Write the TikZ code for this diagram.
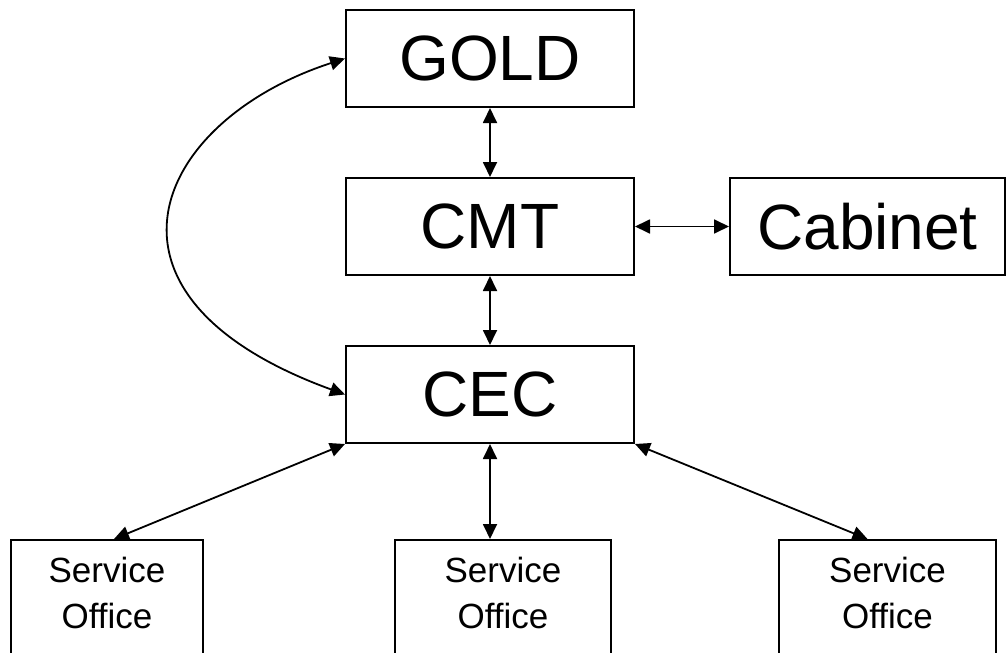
\documentclass[tikz,border=0pt]{standalone}
\usepackage{fontspec}
\setmainfont{Liberation Sans}
\usetikzlibrary{arrows.meta}
\begin{document}
\begin{tikzpicture}[x=1pt,y=-1pt,
  box/.style={draw,line width=2pt,inner sep=0pt,font=\fontsize{64}{70}\selectfont},
  sobox/.style={draw,line width=2pt,inner sep=0pt,anchor=north west},
  sotext/.style={inner sep=0pt,anchor=north,align=center,font=\fontsize{35}{46}\selectfont},
  conn/.style={line width=1.8pt,{Triangle[length=15pt,width=14pt]}-{Triangle[length=15pt,width=14pt]}}]
\useasboundingbox (0,0) rectangle (1007,653);
\clip (0,0) rectangle (1007,653);
\node[box,minimum width=288pt,minimum height=97pt] (gold) at (490,58.5) {GOLD};
\node[box,minimum width=288pt,minimum height=97pt] (cmt) at (490,226.5) {CMT};
\node[box,minimum width=275pt,minimum height=97pt] (cab) at (867.5,226.5) {Cabinet};
\node[box,minimum width=288pt,minimum height=97pt] (cec) at (490,394.5) {CEC};
\node[sobox,minimum width=192pt,minimum height=140pt] (so1) at (10,539) {};
\node[sobox,minimum width=216pt,minimum height=140pt] (so2) at (394,539) {};
\node[sobox,minimum width=217pt,minimum height=140pt] (so3) at (778,539) {};
\node[sotext] (t1) at ([yshift=-18pt]so1.north) {Service\\Office};
\node[sotext] (t2) at ([yshift=-18pt]so2.north) {Service\\Office};
\node[sotext] (t3) at ([yshift=-18pt]so3.north) {Service\\Office};
\draw[conn] (gold.south) -- (cmt.north);
\draw[conn] (cmt.east) -- (cab.west);
\draw[conn] (cmt.south) -- (cec.north);
\draw[conn] (gold.west) .. controls +(162:200) and +(200:290) .. (cec.west);
\draw[conn] (cec.south west) -- ([xshift=7pt]so1.north);
\draw[conn] (cec.south) -- (cec.south |- so2.north);
\draw[conn] (cec.south east) -- ([xshift=-20pt]so3.north);
\end{tikzpicture}
\end{document}
